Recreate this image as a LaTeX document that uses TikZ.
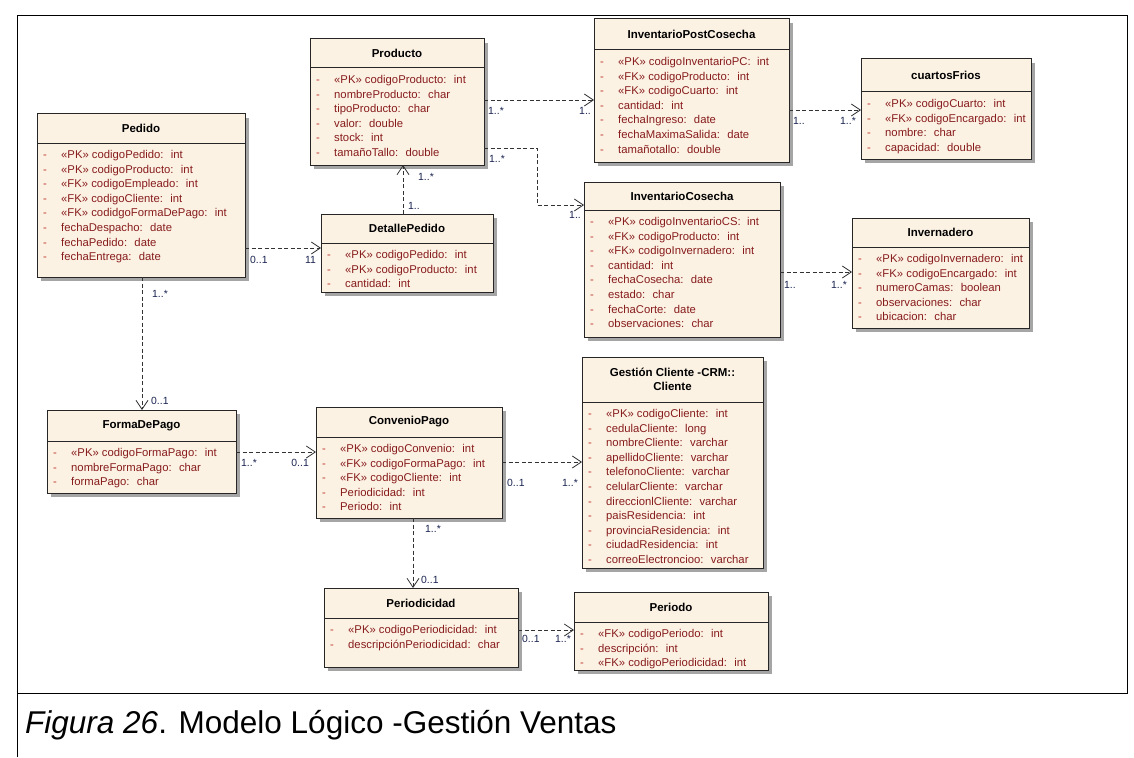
\documentclass[tikz,border=0pt]{standalone}
\usepackage{fontspec}
\setmainfont{Liberation Sans}
\usetikzlibrary{arrows.meta,calc}

\definecolor{boxfill}{RGB}{252,242,228}
\definecolor{attrred}{RGB}{135,28,28}
\definecolor{dashred}{RGB}{190,55,45}
\definecolor{multblue}{RGB}{25,35,80}
\definecolor{shadowgray}{RGB}{165,165,165}

\tikzset{
  classbox/.style={rectangle, draw=black!85, line width=1pt, fill=boxfill, inner sep=0pt, outer sep=0pt},
  boxline/.style={draw=black!85, line width=1pt},
  classtitle/.style={font=\fontsize{11.5}{14}\selectfont\bfseries, align=center, inner sep=0pt},
  attrtext/.style={anchor=base west, font=\fontsize{11.3}{12}\selectfont, text=attrred, inner sep=0pt},
  attrdash/.style={anchor=base, font=\fontsize{11.3}{12}\selectfont, text=dashred, inner sep=0pt},
  dep/.style={draw=black!80, line width=0.8pt, dash pattern=on 4pt off 2.5pt,
    -{Straight Barb[length=9pt,width=12pt,line width=0.8pt]}},
  mult/.style={font=\fontsize{10.4}{11}\selectfont, text=multblue, inner sep=0pt},
  frameline/.style={draw=black, line width=0.9pt}
}

% \umlclass{name}{left}{top}{right}{divider}{bottom}{title}{attributes}
\newcommand\umlclass[8]{%
  \fill[shadowgray] (#2+4,#3+4) rectangle (#4+4,#6+4);
  \node[classbox, minimum width={(#4-#2)*1pt}, minimum height={(#6-#3)*1pt}, anchor=north west] (#1) at (#2,#3) {};
  \draw[boxline] (#2,#5) -- (#4,#5);
  \node[classtitle] (#1-title) at ({(#2+#4)/2},{(#3+#5)/2}) {#7};
  \foreach \a [count=\i] in {#8} {
    \node[attrdash] (#1-d\i) at (#2+8,{#5+15.5+(\i-1)*14.6}) {-};
    \node[attrtext] (#1-a\i) at (#2+24,{#5+15.5+(\i-1)*14.6}) {\a};
  }%
}

\begin{document}
\begin{tikzpicture}[x=1pt,y=-1pt]
\useasboundingbox (0,0) rectangle (1134,757);

% page frame and caption cell
\draw[frameline] (17,15) rectangle (1127,693);
\draw[frameline] (17,693) -- (17,757);
\node[anchor=west, font=\fontsize{31.5}{34}\selectfont, inner sep=0pt] (caption) at (25,725)
  {\textit{Figura 26}. Modelo Lógico -Gestión Ventas};

% classes
\umlclass{pedido}{37}{114}{245}{143}{277}{Pedido}{%
  «PK» codigoPedido:~ int, «PK» codigoProducto:~ int, «FK» codigoEmpleado:~ int,
  «FK» codigoCliente:~ int, «FK» codidgoFormaDePago:~ int, fechaDespacho:~ date,
  fechaPedido:~ date, fechaEntrega:~ date}

\umlclass{producto}{310}{39}{484}{68}{165}{Producto}{%
  «PK» codigoProducto:~ int, nombreProducto:~ char, tipoProducto:~ char,
  valor:~ double, stock:~ int, tamañoTallo:~ double}

\umlclass{detalle}{321}{214}{493}{243}{292}{DetallePedido}{%
  «PK» codigoPedido:~ int, «PK» codigoProducto:~ int, cantidad:~ int}

\umlclass{ipc}{594}{19}{789}{50}{162}{InventarioPostCosecha}{%
  «PK» codigoInventarioPC:~ int, «FK» codigoProducto:~ int, «FK» codigoCuarto:~ int,
  cantidad:~ int, fechaIngreso:~ date, fechaMaximaSalida:~ date, tamañotallo:~ double}

\umlclass{cuartos}{861}{59}{1031}{92}{159}{cuartosFrios}{%
  «PK» codigoCuarto:~ int, «FK» codigoEncargado:~ int, nombre:~ char, capacidad:~ double}

\umlclass{ic}{584}{182}{780}{210}{337}{InventarioCosecha}{%
  «PK» codigoInventarioCS:~ int, «FK» codigoProducto:~ int, «FK» codigoInvernadero:~ int,
  cantidad:~ int, fechaCosecha:~ date, estado:~ char, fechaCorte:~ date, observaciones:~ char}

\umlclass{invernadero}{852}{218}{1029}{247}{328}{Invernadero}{%
  «PK» codigoInvernadero:~ int, «FK» codigoEncargado:~ int, numeroCamas:~ boolean,
  observaciones:~ char, ubicacion:~ char}

\umlclass{formapago}{47}{410}{236}{441}{493}{FormaDePago}{%
  «PK» codigoFormaPago:~ int, nombreFormaPago:~ char, formaPago:~ char}

\umlclass{convenio}{316}{407}{502}{437}{518}{ConvenioPago}{%
  «PK» codigoConvenio:~ int, «FK» codigoFormaPago:~ int, «FK» codigoCliente:~ int,
  Periodicidad:~ int, Periodo:~ int}

\umlclass{cliente}{582}{357}{763}{402}{568}{Gestión Cliente -CRM::\\Cliente}{%
  «PK» codigoCliente:~ int, cedulaCliente:~ long, nombreCliente:~ varchar,
  apellidoCliente:~ varchar, telefonoCliente:~ varchar, celularCliente:~ varchar,
  direccionlCliente:~ varchar, paisResidencia:~ int, provinciaResidencia:~ int,
  ciudadResidencia:~ int, correoElectroncioo:~ varchar}

\umlclass{periodicidad}{324}{588}{518}{618}{667}{Periodicidad}{%
  «PK» codigoPeriodicidad:~ int, descripciónPeriodicidad:~ char}

\umlclass{periodo}{574}{592}{768}{622}{670}{Periodo}{%
  «FK» codigoPeriodo:~ int, descripción:~ int, «FK» codigoPeriodicidad:~ int}

% Pedido -> DetallePedido
\coordinate (p1) at ($(pedido.north east)+(0,134)$);
\coordinate (p2) at (p1 -| detalle.west);
\draw[dep] (p1) -- (p2);
\node[mult, anchor=north west] (m1a) at ($(p1)+(5,8)$) {0..1};
\node[mult, anchor=north east] (m1b) at ($(p2)+(-5,8)$) {11};

% DetallePedido -> Producto
\coordinate (q1) at ($(detalle.north west)+(82,0)$);
\coordinate (q2) at (q1 |- producto.south);
\draw[dep] (q1) -- (q2);
\node[mult, anchor=south west] (m2a) at ($(q1)+(5,-4)$) {1..};
\node[mult, anchor=north west] (m2b) at ($(q2)+(15,8)$) {1..*};

% Producto -> InventarioPostCosecha
\coordinate (r1) at ($(producto.north east)+(0,61)$);
\coordinate (r2) at (r1 -| ipc.west);
\draw[dep] (r1) -- (r2);
\node[mult, anchor=north west] (m3a) at ($(r1)+(4,7)$) {1..*};
\node[mult, anchor=north east] (m3b) at ($(r2)+(-3,7)$) {1..};

% Producto -> InventarioCosecha
\coordinate (s1) at ($(producto.north east)+(0,109)$);
\coordinate (s2) at ($(ic.north west)+(0,23)$);
\coordinate (s3) at ($(producto.east)!0.53!(ic.west)$);
\draw[dep] (s1) -- (s1 -| s3) -- (s3 |- s2) -- (s2);
\node[mult, anchor=north west] (m4a) at ($(s1)+(5,7)$) {1..*};
\node[mult, anchor=north east] (m4b) at ($(s2)+(-3,6)$) {1..};

% InventarioPostCosecha -> cuartosFrios
\coordinate (t1) at ($(ipc.north east)+(0,91)$);
\coordinate (t2) at (t1 -| cuartos.west);
\draw[dep] (t1) -- (t2);
\node[mult, anchor=north west] (m5a) at ($(t1)+(4,7)$) {1..};
\node[mult, anchor=north east] (m5b) at ($(t2)+(-5,7)$) {1..*};

% InventarioCosecha -> Invernadero
\coordinate (u1) at ($(ic.north east)+(0,90)$);
\coordinate (u2) at (u1 -| invernadero.west);
\draw[dep] (u1) -- (u2);
\node[mult, anchor=north west] (m6a) at ($(u1)+(4,9)$) {1..};
\node[mult, anchor=north east] (m6b) at ($(u2)+(-5,9)$) {1..*};

% Pedido -> FormaDePago
\coordinate (v1) at ($(pedido.south west)+(105,0)$);
\coordinate (v2) at (v1 |- formapago.north);
\draw[dep] (v1) -- (v2);
\node[mult, anchor=north west] (m7a) at ($(v1)+(10,13)$) {1..*};
\node[mult, anchor=south west] (m7b) at ($(v2)+(9,-5)$) {0..1};

% FormaDePago -> ConvenioPago
\coordinate (w1) at ($(formapago.north east)+(0,42)$);
\coordinate (w2) at (w1 -| convenio.west);
\draw[dep] (w1) -- (w2);
\node[mult, anchor=north west] (m8a) at ($(w1)+(5,7)$) {1..*};
\node[mult, anchor=north east] (m8b) at ($(w2)+(-7,7)$) {0..1};

% ConvenioPago -> Cliente
\coordinate (x1) at ($(convenio.north east)+(0,55)$);
\coordinate (x2) at (x1 -| cliente.west);
\draw[dep] (x1) -- (x2);
\node[mult, anchor=north west] (m9a) at ($(x1)+(5,17)$) {0..1};
\node[mult, anchor=north east] (m9b) at ($(x2)+(-4,17)$) {1..*};

% ConvenioPago -> Periodicidad
\coordinate (y1) at ($(convenio.south west)+(97,0)$);
\coordinate (y2) at (y1 |- periodicidad.north);
\draw[dep] (y1) -- (y2);
\node[mult, anchor=north west] (m10a) at ($(y1)+(12,7)$) {1..*};
\node[mult, anchor=south west] (m10b) at ($(y2)+(8,-4)$) {0..1};

% Periodicidad -> Periodo
\coordinate (z1) at ($(periodicidad.north east)+(0,42)$);
\coordinate (z2) at (z1 -| periodo.west);
\draw[dep] (z1) -- (z2);
\node[mult, anchor=north west] (m11a) at ($(z1)+(4,5)$) {0..1};
\node[mult, anchor=north east] (m11b) at ($(z2)+(-3,5)$) {1..*};

\end{tikzpicture}
\end{document}
